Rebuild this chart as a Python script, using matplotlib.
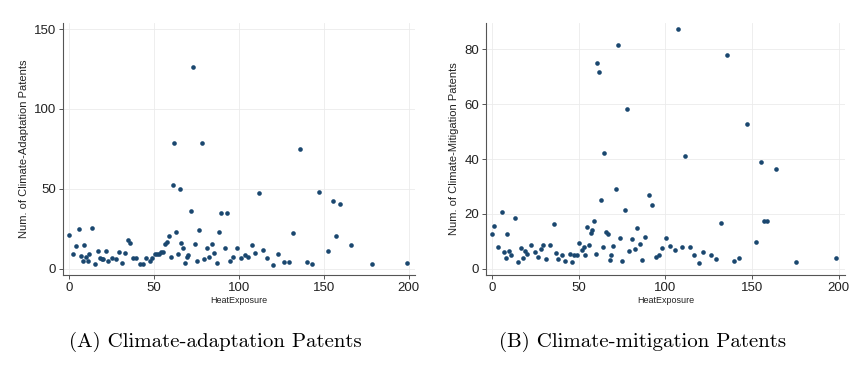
import matplotlib.pyplot as plt

# -----------------------------
# Data
# -----------------------------
adapt_x = [0, 2.0, 3.9, 5.9, 6.9, 7.9, 8.8, 9.8, 10.8, 11.8, 13.6, 15.3, 16.9, 18.3, 19.3,
           20.0, 21.4, 23.0, 25.0, 27.5, 29.5, 31.0, 32.6, 34.4, 36.0, 37.5, 39.5, 41.5,
           43.4, 45.2, 47.5, 48.9, 50.3, 51.5, 52.7, 54.2, 55.4, 56.6, 57.8, 58.9, 60.1,
           60.9, 61.9, 63.1, 64.0, 65.0, 66.0, 67.0, 68.0, 69.2, 70.1, 71.5, 72.9, 74.1,
           75.0, 76.6, 78.0, 79.6, 80.9, 82.5, 83.9, 85.5, 87.0, 88.0, 89.6, 91.6, 93.1,
           94.5, 96.5, 99.0, 101.2, 103.5, 105.5, 107.5, 109.6, 111.6, 114.3, 116.7,
           119.8, 123.2, 126.5, 129.7, 132.0, 135.9, 139.9, 142.8, 147.1, 152.3, 155.2,
           157.4, 159.7, 165.8, 178.4, 199.2]
adapt_y = [21.1, 9.0, 14.2, 24.6, 7.9, 5.0, 14.8, 7.1, 4.6, 9.2, 25.7, 2.7, 11.1, 6.5, 6.1,
           5.8, 11.1, 5.0, 6.9, 6.1, 10.7, 3.8, 10.0, 18.0, 16.3, 6.9, 6.5, 3.1,
           3.1, 6.5, 4.6, 6.5, 9.4, 9.2, 9.2, 10.2, 10.7, 15.5, 16.9, 20.5, 7.1,
           52.4, 78.5, 23.0, 9.2, 50.1, 16.1, 13.0, 3.3, 7.1, 8.6, 36.1, 126.4, 15.2,
           4.6, 24.2, 79.0, 6.3, 13.2, 7.1, 15.7, 9.6, 3.8, 23.2, 35.1, 12.7, 34.7,
           4.8, 7.3, 12.7, 6.5, 8.8, 7.3, 14.8, 9.6, 47.6, 11.7, 6.9,
           2.5, 9.0, 4.4, 4.4, 22.4, 75.2, 4.2, 2.9, 48.3, 11.3, 42.2,
           20.7, 40.5, 15.0, 3.1, 3.8]

mitig_x = [0, 1.3, 3.5, 5.6, 6.9, 8.1, 8.9, 10.0, 11.0, 13.1, 15.0, 16.6, 17.9, 19.1, 20.4,
           22.5, 24.6, 26.6, 28.1, 29.6, 31.0, 33.5, 35.6, 37.0, 37.9, 40.2, 42.3, 44.9,
           46.0, 47.2, 48.9, 50.4, 52.0, 52.9, 53.9, 55.1, 56.0, 57.0, 57.9, 58.9, 59.9,
           60.8, 62.0, 62.9, 63.9, 64.9, 66.0, 67.0, 68.0, 68.9, 69.9, 71.4, 72.8, 73.9,
           74.9, 76.6, 78.0, 79.3, 80.8, 82.6, 83.9, 85.3, 86.8, 88.4, 90.5, 92.6, 94.5,
           96.4, 98.4, 100.7, 103.0, 105.5, 107.4, 109.5, 111.5, 114.1, 116.7, 119.2,
           122.0, 126.3, 129.5, 131.9, 135.7, 139.4, 142.4, 147.3, 152.1, 155.1, 156.9,
           159.0, 164.2, 175.4, 198.8]
mitig_y = [12.8, 15.4, 8.1, 20.7, 6.2, 4.0, 12.6, 6.6, 5.0, 18.6, 2.3, 7.7, 4.0, 6.3, 5.5,
           8.8, 6.0, 4.3, 7.1, 8.8, 3.5, 8.8, 16.4, 5.8, 3.5, 4.9, 2.8, 5.5,
           2.3, 4.9, 5.1, 9.4, 6.7, 7.9, 4.9, 15.2, 8.8, 12.9, 14.3, 17.3, 5.5,
           75.1, 71.9, 25.0, 8.1, 42.3, 13.3, 12.6, 3.3, 5.0, 8.3, 28.9, 81.7, 11.3,
           2.8, 21.3, 58.4, 6.6, 10.7, 7.2, 15.0, 8.9, 3.2, 11.6, 27.0, 23.3, 4.3,
           5.0, 7.5, 11.3, 8.4, 6.7, 87.3, 7.9, 41.2, 7.9, 5.1, 2.2,
           6.0, 5.1, 3.6, 16.8, 77.9, 2.7, 3.8, 52.8, 9.7, 38.9, 17.3,
           17.3, 36.5, 2.3, 4.0]

x_ticks = [0, 50, 100, 150, 200]
adapt_ticks = [0, 50, 100, 150]
mitig_ticks = [0, 20, 40, 60, 80]

navy = '#1a476f'
plt.rcParams['font.family'] = 'Liberation Sans'

fig = plt.figure(figsize=(8.65, 3.8), dpi=100)
ax1 = fig.add_axes([0.0732, 0.2755, 0.4066, 0.6648])
ax2 = fig.add_axes([0.5618, 0.2755, 0.4150, 0.6648])


def style(ax, yticks, ylim, ylabel):
    ax.set_xlim(-3.5, 203.7)
    ax.set_ylim(*ylim)
    ax.set_xticks(x_ticks)
    ax.set_yticks(yticks)
    ax.grid(True, color='#ebebeb', linewidth=0.6)
    ax.set_axisbelow(True)
    for s in ['top', 'right']:
        ax.spines[s].set_visible(False)
    for s in ['left', 'bottom']:
        ax.spines[s].set_color('#555555')
        ax.spines[s].set_linewidth(0.8)
    ax.tick_params(direction='out', length=3, width=0.7, color='#555555',
                   labelsize=9.5, labelcolor='#222222', pad=2)
    ax.set_xlabel('HeatExposure', fontsize=6.5, labelpad=1, color='#222222')
    ax.set_ylabel(ylabel, fontsize=8, labelpad=4, color='#222222')


ax1.scatter(adapt_x, adapt_y, s=11, color=navy, linewidths=0, zorder=3)
style(ax1, adapt_ticks, (-4.1, 154), 'Num. of Climate-Adaptation Patents')

ax2.scatter(mitig_x, mitig_y, s=11, color=navy, linewidths=0, zorder=3)
style(ax2, mitig_ticks, (-2.4, 89.7), 'Num. of Climate-Mitigation Patents')

fig.text(215 / 865, 1 - 342 / 380, '(A) Climate-adaptation Patents', family='cmr10',
         fontsize=15, ha='center', va='center')
fig.text(643 / 865, 1 - 342 / 380, '(B) Climate-mitigation Patents', family='cmr10',
         fontsize=15, ha='center', va='center')

fig.savefig('out.png', dpi=100)
